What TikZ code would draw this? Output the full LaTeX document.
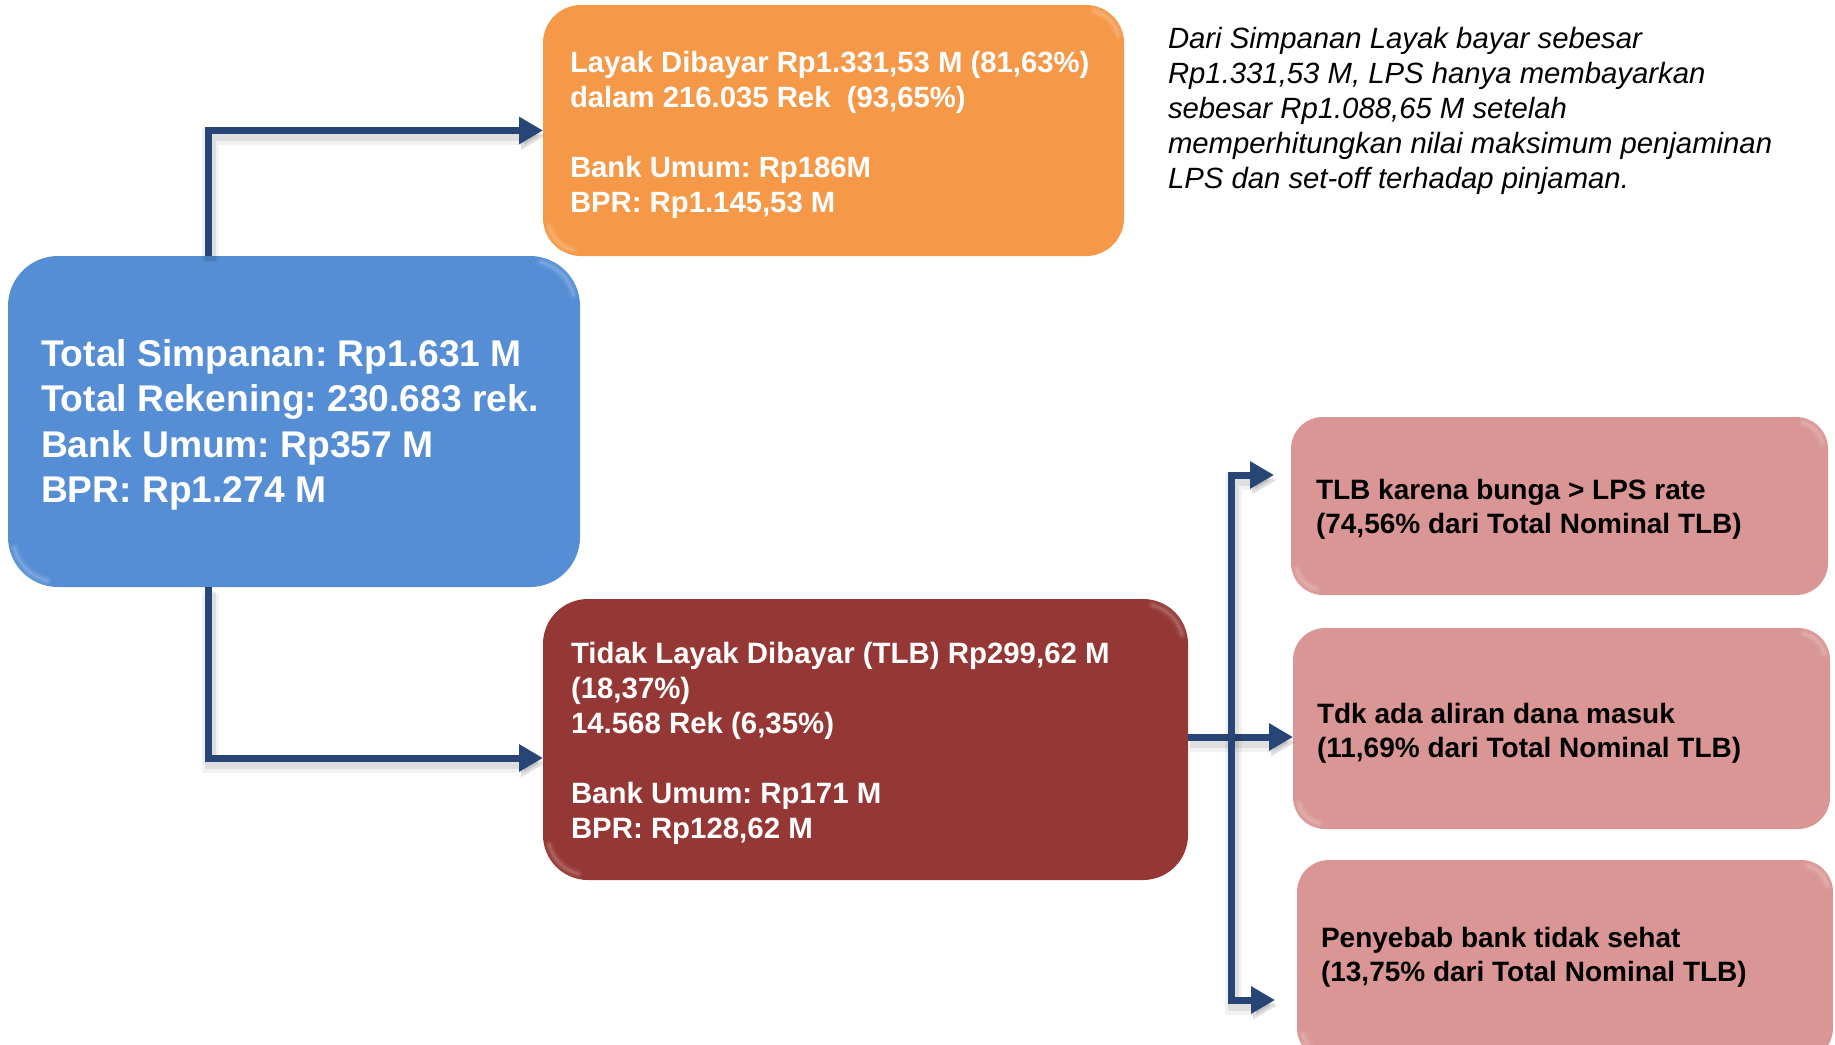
\documentclass[tikz,border=0pt]{standalone}
\usepackage{fontspec}
\setmainfont{Liberation Sans}
\usetikzlibrary{arrows.meta}
\frenchspacing

\definecolor{boxblue}{HTML}{558ED5}
\definecolor{boxorange}{HTML}{F59848}
\definecolor{boxmaroon}{HTML}{953735}
\definecolor{boxpink}{HTML}{D99694}
\definecolor{linkblue}{HTML}{274675}

% soft light rim on the top-right and bottom-left corners of a panel
% #1 node name, #2 corner radius, #3 rim radius
\newcommand\boxgloss[3]{%
  \foreach \w/\o in {9/0.06,5/0.08,2/0.1}{%
    \draw[gloss, line width=\w pt, opacity=\o]
      ([xshift=-#2pt,yshift=-#2pt]#1.north east) ++(76:#3)
      arc[start angle=76,end angle=14,radius=#3];
    \draw[gloss, line width=\w pt, opacity=\o]
      ([xshift=#2pt,yshift=#2pt]#1.south west) ++(256:#3)
      arc[start angle=256,end angle=194,radius=#3];
  }%
}

\begin{document}
\begin{tikzpicture}[x=1pt,y=1pt,
  >={Triangle[length=24pt,width=26pt]},
  panel/.style={inner sep=0pt, outer sep=0pt, anchor=north west},
  gloss/.style={draw=white, line cap=round},
  wtext/.style={inner sep=0pt, outer sep=0pt, anchor=north west, align=left, text=white},
  btext/.style={inner sep=0pt, outer sep=0pt, anchor=north west, align=left, text=black},
  link/.style={draw=linkblue, line width=7pt, line join=miter,
    preaction={draw=black, opacity=0.05, line width=17pt,
      transform canvas={xshift=2pt,yshift=-6pt}},
    preaction={draw=black, opacity=0.08, line width=11pt,
      transform canvas={xshift=2pt,yshift=-5pt}}},
]
\useasboundingbox (0,0) rectangle (1835,-1044);
\fill[white] (0,0) rectangle (1835,-1044);

% panels
\node[panel, fill=boxblue, rounded corners=50pt,
      minimum width=572pt, minimum height=331pt] (total) at (8,-256) {};
\node[panel, fill=boxorange, rounded corners=38pt,
      minimum width=581pt, minimum height=251pt] (pay) at (543,-5) {};
\node[panel, fill=boxmaroon, rounded corners=45pt,
      minimum width=645pt, minimum height=281pt] (nopay) at (543,-599) {};
\node[panel, fill=boxpink, rounded corners=32pt,
      minimum width=537pt, minimum height=178pt] (rate) at (1291,-417) {};
\node[panel, fill=boxpink, rounded corners=32pt,
      minimum width=537pt, minimum height=201pt] (flow) at (1293,-628) {};
\node[panel, fill=boxpink, rounded corners=32pt,
      minimum width=536pt, minimum height=200pt] (sick) at (1297,-860) {};

\boxgloss{total}{50}{45}
\boxgloss{pay}{38}{33}
\boxgloss{nopay}{45}{40}
\boxgloss{rate}{32}{27}
\boxgloss{flow}{32}{27}
\boxgloss{sick}{32}{27}

% panel texts
\node[wtext, font={\bfseries\fontsize{37.2}{45.5}\selectfont}] (totalTxt) at (41,-334.6)
  {\strut Total Simpanan: Rp1.631 M\\
   Total Rekening: 230.683 rek.\\
   Bank Umum: Rp357 M\\
   BPR: Rp1.274 M};

\node[wtext, font={\bfseries\fontsize{29.3}{35}\selectfont}] (payTxt) at (570,-47.5)
  {\strut Layak Dibayar Rp1.331,53 M (81,63\%)\\
   dalam 216.035 Rek\ \ (93,65\%)\\[35pt]
   Bank Umum: Rp186M\\
   BPR: Rp1.145,53 M};

\node[wtext, font={\bfseries\fontsize{29.4}{35}\selectfont}] (nopayTxt) at (571,-638.5)
  {\strut Tidak Layak Dibayar (TLB) Rp299,62 M\\
   (18,37\%)\\
   14.568 Rek (6,35\%)\\[35pt]
   Bank Umum: Rp171 M\\
   BPR: Rp128,62 M};

\node[btext, font={\bfseries\fontsize{28}{34}\selectfont}] (rateTxt) at (1316,-476)
  {\strut TLB karena bunga > LPS rate\\
   (74,56\% dari Total Nominal TLB)};

\node[btext, font={\bfseries\fontsize{28}{34}\selectfont}] (flowTxt) at (1317,-700)
  {\strut Tdk ada aliran dana masuk\\
   (11,69\% dari Total Nominal TLB)};

\node[btext, font={\bfseries\fontsize{28}{34}\selectfont}] (sickTxt) at (1321,-924)
  {\strut Penyebab bank tidak sehat\\
   (13,75\% dari Total Nominal TLB)};

% side note
\node[btext, font={\itshape\fontsize{29.3}{35}\selectfont}] (note) at (1168,-23.8)
  {\strut Dari Simpanan Layak bayar sebesar\\
   Rp1.331,53 M, LPS hanya membayarkan\\
   sebesar Rp1.088,65 M setelah\\
   memperhitungkan nilai maksimum penjaminan\\
   LPS dan set-off terhadap pinjaman.};

% connectors
\coordinate (trunk) at (208,0);
\coordinate (lowturn) at (208,-758);
\coordinate (split) at (1188,-737);
\coordinate (bus) at (1231,0);
\coordinate (capA) at (1274,-475);
\coordinate (capB) at (1275,-1000);

\draw[link, ->] (total.north -| trunk) |- (pay.west);
\draw[link, ->] (total.south -| trunk) |- (nopay.west |- lowturn);
\draw[link, ->] (nopay.east |- split) -- (flow.west |- split);
\draw[link, <->] (capA) -| (bus |- capB) -- (capB);
\end{tikzpicture}
\end{document}
